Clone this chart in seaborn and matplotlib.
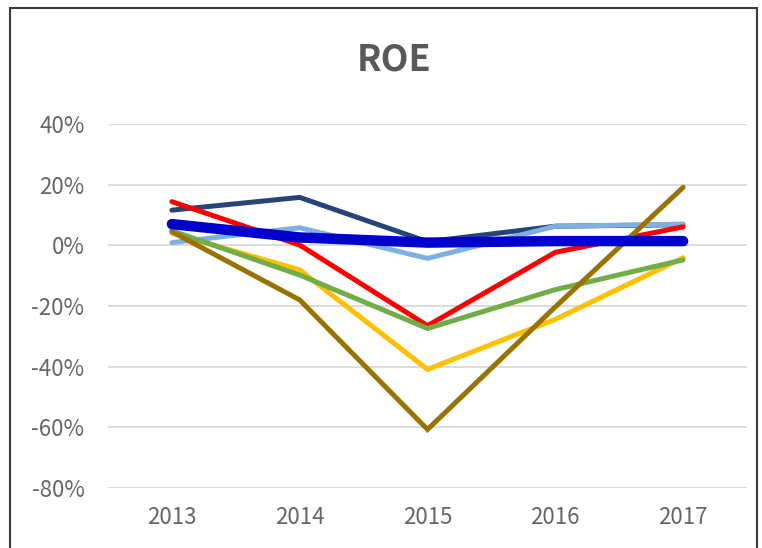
import matplotlib
matplotlib.use("Agg")
import matplotlib.pyplot as plt
import seaborn as sns
import pandas as pd
from matplotlib.patches import Rectangle
from matplotlib.ticker import FuncFormatter

years = [2013, 2014, 2015, 2016, 2017]
navy = [11.6, 15.8, 1.2, 6.3, 6.8]
light_blue = [0.9, 5.8, -4.3, 6.3, 7.0]
red = [14.4, 0.1, -26.5, -2.3, 6.1]
yellow = [4.0, -8.1, -40.9, -24.4, -4.1]
green = [4.8, -9.8, -27.4, -14.6, -4.8]
olive = [4.5, -18.0, -60.7, -20.3, 19.1]
blue = [7.0, 2.6, 0.9, 1.4, 1.4]

series = {
    "s1": navy, "s2": light_blue, "s3": red, "s4": yellow,
    "s5": green, "s6": olive, "s7": blue,
}
colors = {
    "s1": "#264478", "s2": "#7EB0E0", "s3": "#FF0000", "s4": "#FFC000",
    "s5": "#70AD47", "s6": "#997300", "s7": "#0000CC",
}
rows = []
for name, vals in series.items():
    for y, v in zip(years, vals):
        rows.append({"year": y, "value": v, "series": name})
df = pd.DataFrame(rows)

sns.set_theme(style="white")
plt.rcParams['font.family'] = ['Noto Sans CJK JP', 'DejaVu Sans']

fig = plt.figure(figsize=(7.62, 5.48), dpi=100)
ax = fig.add_axes([108/762, 60/548, (747-108)/762, (488-124)/548])

sns.lineplot(data=df, x="year", y="value", hue="series", hue_order=list(series.keys()),
             palette=colors, ax=ax, legend=False, sort=False, estimator=None)
for line, name in zip(ax.get_lines(), series.keys()):
    line.set_linewidth(7.5 if name == "s7" else 3.6)
    line.set_solid_capstyle("round")
    line.set_solid_joinstyle("miter")

ax.set_xlim(2012.5, 2017.5)
ax.set_ylim(-80, 40)
ax.set_yticks([40, 20, 0, -20, -40, -60, -80])
ax.yaxis.set_major_formatter(FuncFormatter(lambda v, p: f"{int(v)}%"))
ax.set_xticks(years)
ax.set_xticklabels([str(y) for y in years])
ax.grid(axis="y", color="#D9D9D9", linewidth=1.3)
ax.grid(axis="x", visible=False)
ax.set_axisbelow(True)
for s in ax.spines.values():
    s.set_visible(False)
ax.tick_params(axis="both", length=0, labelsize=16, colors="#666666")
ax.tick_params(axis="y", pad=17)
ax.tick_params(axis="x", pad=13)
ax.set_xlabel("")
ax.set_ylabel("")

fig.text(394/762, 1 - 60/548, "ROE", ha="center", va="center", fontsize=26,
         fontweight="bold", color="#595959")

fig.patches.append(Rectangle((10/762, -0.05), (757-10)/762, 1.05 - 8/548,
                             transform=fig.transFigure, fill=False,
                             edgecolor="#3a3a3a", linewidth=1.5))

fig.savefig("out.png", dpi=100, facecolor="white")
